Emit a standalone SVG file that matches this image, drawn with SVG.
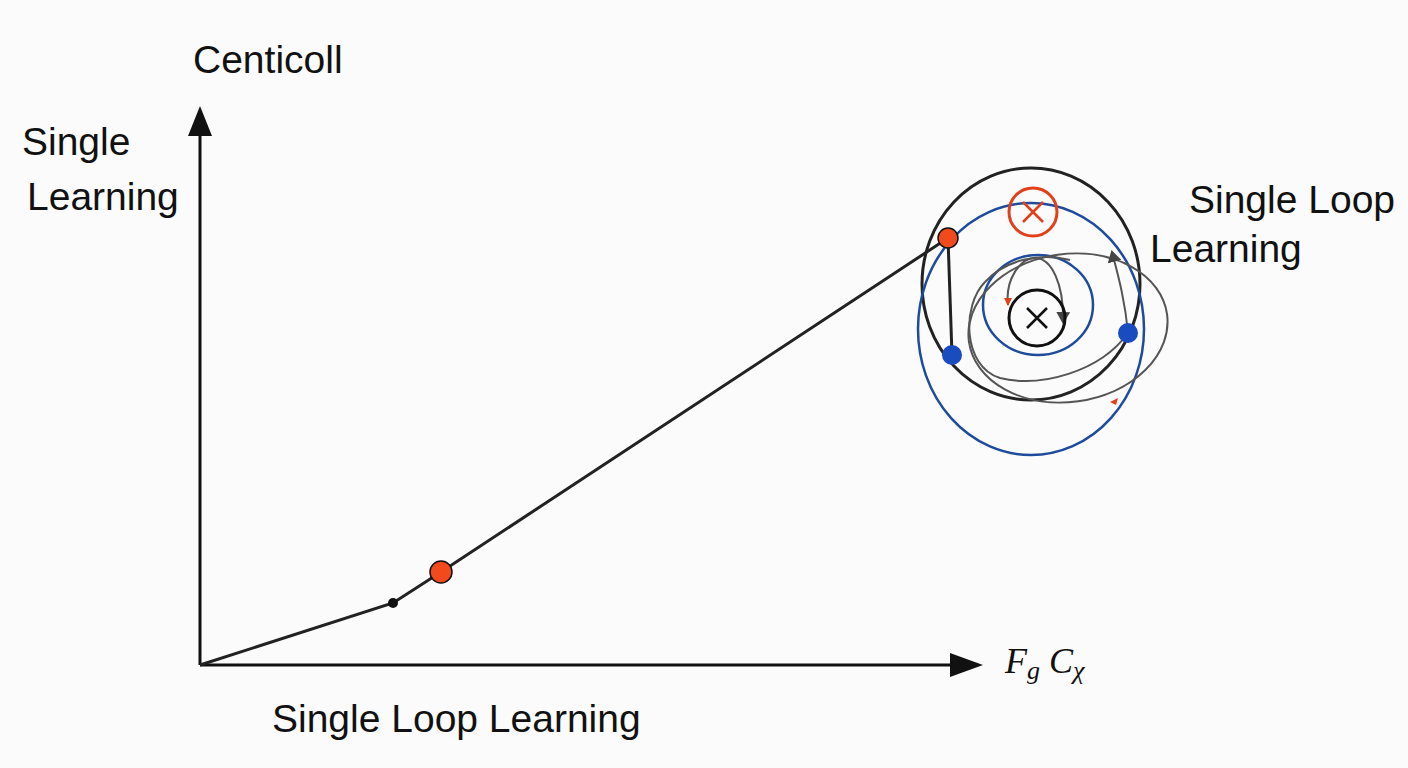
<svg xmlns="http://www.w3.org/2000/svg" width="1408" height="768" viewBox="0 0 1408 768">
<style>
.lbl{font-family:"Liberation Sans",Arial,sans-serif;font-size:39px;fill:#111}
.ax{stroke:#111;stroke-width:3;fill:none}
.blk{stroke:#222;stroke-width:3;fill:none}
.gry{stroke:#555;stroke-width:2;fill:none}
.blu{stroke:#1f4b9c;stroke-width:2.5;fill:none}
</style>
<defs>
<marker id="gh" markerWidth="12" markerHeight="14" refX="10" refY="7" orient="auto" markerUnits="userSpaceOnUse" viewBox="0 0 12 14">
<path d="M0,0 L12,7 L0,14 Z" fill="#444"/>
</marker>
</defs>
<rect width="1408" height="768" fill="#fbfbfb"/>
<g id="connectors">
<line class="ax" x1="200" y1="665" x2="200" y2="135"/>
<path d="M188,136 L200,106 L212,136 Z" fill="#111"/>
<line class="ax" x1="200" y1="665" x2="955" y2="665"/>
<path d="M950,653 L983,665 L950,677 Z" fill="#111"/>
<polyline class="blk" points="200,665 393,603 441,572 948,238"/>
<line class="blk" x1="948" y1="238" x2="952" y2="355"/>
</g>
<g id="orbits">
<ellipse class="blk" cx="1031" cy="284" rx="109" ry="116"/>
<ellipse class="blu" cx="1031" cy="329" rx="113" ry="126"/>
<ellipse class="blu" cx="1038" cy="305" rx="55" ry="50"/>
<ellipse class="gry" cx="1068" cy="328" rx="100" ry="74" transform="rotate(-8 1068 328)"/>
<path class="gry" d="M1128,333 C1100,372 1040,388 1000,378 C962,366 962,305 985,282 C1005,260 1040,252 1070,260"/>
<path class="gry" d="M1128,333 C1125,300 1118,275 1112,252" marker-end="url(#gh)"/>
<path class="gry" d="M1008,305 C1005,280 1020,258 1035,258 C1052,258 1064,285 1063,322" marker-end="url(#gh)"/>
<path d="M1004,298 L1012,298 L1008,306 Z" fill="#e0401a"/>
<path d="M1110,402 L1118,398 L1116,405 Z" fill="#e0401a"/>
</g>
<g id="node-center">
<circle cx="1037" cy="318" r="28" fill="none" stroke="#111" stroke-width="3"/>
<path d="M1027,308 L1047,328 M1047,308 L1027,328" stroke="#111" stroke-width="2.5"/>
</g>
<g id="node-redx">
<circle cx="1033" cy="212" r="24" fill="none" stroke="#e0401a" stroke-width="3"/>
<path d="M1023,202 L1043,222 M1043,202 L1023,222" stroke="#e0401a" stroke-width="2.5"/>
</g>
<g id="node-dots">
<circle cx="948" cy="238" r="10" fill="#f24a1c" stroke="#111" stroke-width="1.5"/>
<circle cx="441" cy="572" r="11" fill="#f24a1c" stroke="#111" stroke-width="1.5"/>
<circle cx="393" cy="603" r="5" fill="#111"/>
<circle cx="952" cy="355" r="10" fill="#1a4bbf"/>
<circle cx="1128" cy="333" r="10" fill="#1a4bbf"/>
</g>
<g id="labels">
<text class="lbl" x="193" y="73">Centicoll</text>
<text class="lbl" x="22" y="155">Single</text>
<text class="lbl" x="27" y="210">Learning</text>
<text class="lbl" x="1189" y="213">Single Loop</text>
<text class="lbl" x="1150" y="262">Learning</text>
<text class="lbl" x="272" y="732">Single Loop Learning</text>
<text x="1005" y="673" font-family="Liberation Serif,serif" font-style="italic" font-size="36" fill="#111">F<tspan font-size="26" dy="6">g</tspan><tspan dy="-6"> C</tspan><tspan font-size="26" dy="6">χ</tspan></text>
</g>
</svg>
